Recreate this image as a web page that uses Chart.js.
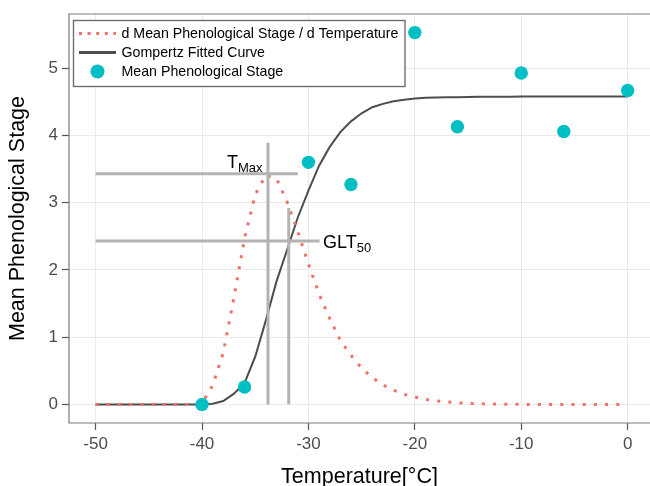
<!DOCTYPE html>
<html><head><meta charset="utf-8">
<script src="https://cdn.jsdelivr.net/npm/chart.js@4/dist/chart.umd.min.js"></script>
<style>html,body{margin:0;padding:0;overflow:hidden;background:#fff;width:650px;height:486px}canvas{display:block}</style>
</head><body>
<canvas id="c" width="650" height="486"></canvas>
<script>
// Observed data
const obsTemps = [-40, -36, -30, -26, -20, -16, -10, -6, 0];
const obsStage = [0.0, 0.26, 3.60, 3.27, 5.53, 4.13, 4.93, 4.06, 4.67];

// Curves sampled at each degree
const curveTemps = [-50,-49,-48,-47,-46,-45,-44,-43,-42,-41,-40,-39,-38,-37,-36,-35,-34,-33,-32,-31,-30,-29,-28,-27,-26,-25,-24,-23,-22,-21,-20,-19,-18,-17,-16,-15,-14,-13,-12,-11,-10,-9,-8,-7,-6,-5,-4,-3,-2,-1,0];
const gompertz = [0,0,0,0,0,0,0,0,0,0,0.0,0.01,0.05,0.16,0.32,0.71,1.25,1.83,2.30,2.78,3.18,3.55,3.83,4.05,4.21,4.33,4.42,4.47,4.51,4.53,4.55,4.56,4.565,4.57,4.57,4.572,4.574,4.575,4.576,4.577,4.578,4.578,4.579,4.579,4.58,4.58,4.58,4.58,4.58,4.58,4.58];
const derivative = [0,0,0,0,0,0,0,0,0,0,0.02,0.28,0.77,1.59,2.47,3.12,3.41,3.36,3.01,2.57,2.09,1.64,1.28,0.95,0.73,0.54,0.40,0.29,0.21,0.15,0.11,0.075,0.052,0.036,0.024,0.016,0.010,0.006,0.004,0.002,0.001,0,0,0,0,0,0,0,0,0,0];

// Reference markers
const tMax = -33.8, tMaxY = 3.43, tMaxLineEnd = -31.0, tMaxTop = 3.89;
const glt50 = -31.85, glt50Y = 2.43, glt50LineEnd = -28.95, glt50Top = 2.92;
const refStart = -50;

// Axis ticks
const xTicks = [-50, -40, -30, -20, -10, 0];
const yTicks = [0, 1, 2, 3, 4, 5];

const legendLabels = ['d Mean Phenological Stage / d Temperature', 'Gompertz Fitted Curve', 'Mean Phenological Stage'];

const FONT = "'Liberation Sans', Arial, Helvetica, sans-serif";
const RED = '#F0706A', CYAN = '#00BFC4', DARK = '#4D4D4D', GREY = '#B3B3B3';

const toXY = (xs, ys) => xs.map((x, i) => ({x, y: ys[i]}));

const framePlugin = {
  id: 'frame',
  afterDatasetsDraw(chart) {
    const {ctx, chartArea: a, scales} = chart;
    const xs = scales.x, ys = scales.y;
    ctx.save();
    ctx.strokeStyle = '#7A7A7A';
    ctx.lineWidth = 1.2;
    ctx.beginPath();
    ctx.moveTo(a.right + 2, a.top); ctx.lineTo(a.left, a.top); ctx.lineTo(a.left, a.bottom); ctx.lineTo(a.right + 2, a.bottom);
    ctx.stroke();
    ctx.fillStyle = '#000';
    ctx.textBaseline = 'alphabetic';
    const big = '18px ' + FONT, small = '13px ' + FONT;
    ctx.font = big; const wT = ctx.measureText('T').width;
    ctx.font = small; const wM = ctx.measureText('Max').width;
    const tx = xs.getPixelForValue(tMax) - 5.5 - (wT + wM);
    const ty = ys.getPixelForValue(tMaxY) - 6;
    ctx.font = big; ctx.textAlign = 'left'; ctx.fillText('T', tx, ty);
    ctx.font = small; ctx.fillText('Max', tx + wT, ty + 4);
    const gx = xs.getPixelForValue(glt50LineEnd) + 3.5;
    const gy = ys.getPixelForValue(glt50Y) + 6.5;
    ctx.font = big; const wG = ctx.measureText('GLT').width;
    ctx.fillText('GLT', gx, gy);
    ctx.font = small; ctx.fillText('50', gx + wG, gy + 4);
    ctx.restore();
  },
  afterDraw(chart) {
    const {ctx} = chart;
    ctx.save();
    ctx.fillStyle = '#fff';
    ctx.fillRect(73.5, 20.5, 331.5, 66);
    ctx.strokeStyle = '#6E6E6E';
    ctx.lineWidth = 1.4;
    ctx.strokeRect(73.5, 20.5, 331.5, 66);
    const rows = [33.5, 52.5, 71.5];
    ctx.strokeStyle = RED; ctx.lineWidth = 3; ctx.setLineDash([3, 5.6]);
    ctx.beginPath(); ctx.moveTo(79, rows[0]); ctx.lineTo(116, rows[0]); ctx.stroke();
    ctx.setLineDash([]);
    ctx.strokeStyle = DARK; ctx.lineWidth = 3;
    ctx.beginPath(); ctx.moveTo(79, rows[1]); ctx.lineTo(116, rows[1]); ctx.stroke();
    ctx.fillStyle = CYAN;
    ctx.beginPath(); ctx.arc(97.5, rows[2], 7, 0, Math.PI * 2); ctx.fill();
    ctx.fillStyle = '#000'; ctx.font = '14.2px ' + FONT; ctx.textBaseline = 'middle'; ctx.textAlign = 'left';
    legendLabels.forEach((t, i) => ctx.fillText(t, 121.5, rows[i] + 0.5));
    ctx.restore();
  }
};

new Chart(document.getElementById('c'), {
  type: 'scatter',
  data: {
    datasets: [
      {label: legendLabels[2], data: toXY(obsTemps, obsStage), backgroundColor: CYAN, borderWidth: 0, pointRadius: 6.7, showLine: false, order: 0},
      {label: 'tmaxH', data: [{x: refStart, y: tMaxY}, {x: tMaxLineEnd, y: tMaxY}], showLine: true, borderColor: GREY, borderWidth: 3, pointRadius: 0, order: 1},
      {label: 'tmaxV', data: [{x: tMax, y: 0}, {x: tMax, y: tMaxTop}], showLine: true, borderColor: GREY, borderWidth: 3, pointRadius: 0, order: 1},
      {label: 'gltH', data: [{x: refStart, y: glt50Y}, {x: glt50LineEnd, y: glt50Y}], showLine: true, borderColor: GREY, borderWidth: 3, pointRadius: 0, order: 1},
      {label: 'gltV', data: [{x: glt50, y: 0}, {x: glt50, y: glt50Top}], showLine: true, borderColor: GREY, borderWidth: 3, pointRadius: 0, order: 1},
      {label: legendLabels[0], data: toXY(curveTemps, derivative), showLine: true, borderColor: RED, borderWidth: 3, borderDash: [3, 8.2], pointRadius: 0, tension: 0, order: 2},
      {label: legendLabels[1], data: toXY(curveTemps, gompertz), showLine: true, borderColor: DARK, borderWidth: 2, pointRadius: 0, tension: 0, order: 3}
    ]
  },
  options: {
    responsive: false,
    devicePixelRatio: 1,
    animation: false,
    layout: {autoPadding: false, padding: {left: 0, top: 14, right: 0, bottom: 0}},
    plugins: {legend: {display: false}, tooltip: {enabled: false}},
    scales: {
      x: {
        type: 'linear', min: -52.5, max: 2.1,
        afterFit(s) { s.height = 63; s.paddingLeft = 0; s.paddingRight = 0; },
        afterBuildTicks(s) { s.ticks = xTicks.map(v => ({value: v})); },
        grid: {color: '#EBEBEB', lineWidth: 1, tickLength: 7, tickColor: '#555', tickWidth: 1.2},
        border: {display: false},
        ticks: {color: '#4D4D4D', font: {family: FONT, size: 17}, padding: 4, maxRotation: 0},
        title: {display: true, text: 'Temperature[°C]', color: '#000', font: {family: FONT, size: 21.5, lineHeight: 0.85}, padding: {top: 0, bottom: 0}}
      },
      y: {
        type: 'linear', min: -0.2765, max: 5.8065,
        afterFit(s) { s.width = 69; s.paddingTop = 0; s.paddingBottom = 0; },
        afterBuildTicks(s) { s.ticks = yTicks.map(v => ({value: v})); },
        grid: {color: '#EBEBEB', lineWidth: 1, tickLength: 7, tickColor: '#555', tickWidth: 1.2},
        border: {display: false},
        ticks: {color: '#4D4D4D', font: {family: FONT, size: 17}, padding: 4},
        title: {display: true, text: 'Mean Phenological Stage', color: '#000', font: {family: FONT, size: 21.5, lineHeight: 1}, padding: {top: 7.5, bottom: 0}}
      }
    }
  },
  plugins: [framePlugin]
});
</script>
</body></html>
